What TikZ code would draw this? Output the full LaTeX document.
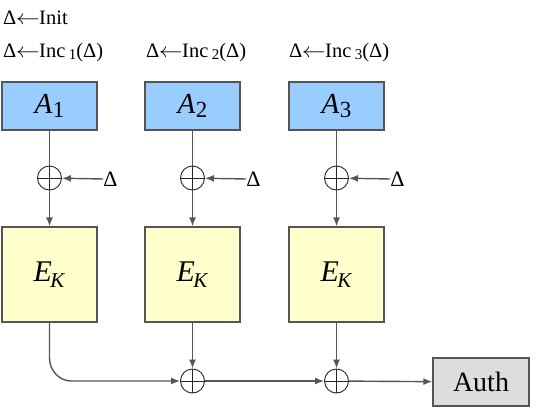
\documentclass[tikz,border=0pt]{standalone}
\usepackage{fontspec}
\setmainfont{Liberation Serif}
\usetikzlibrary{arrows.meta}
\definecolor{ablue}{RGB}{153,204,255}
\definecolor{eyel}{RGB}{255,255,204}
\definecolor{agray}{RGB}{221,221,221}
\definecolor{lgray}{RGB}{85,85,85}
\tikzset{
  abox/.style={draw=lgray, line width=1.4pt, fill=ablue, minimum width=95pt, minimum height=48pt, inner sep=0pt, font=\fontsize{29}{29}\selectfont},
  ebox/.style={draw=lgray, line width=1.4pt, fill=eyel, minimum width=95pt, minimum height=95pt, inner sep=0pt, font=\fontsize{30}{30}\selectfont},
  authbox/.style={draw=lgray, line width=1.4pt, fill=agray, minimum width=96pt, minimum height=48pt, inner sep=0pt, font=\fontsize{28}{28}\selectfont},
  xorc/.style={circle, draw=black!85, line width=0.9pt, minimum size=24pt, inner sep=0pt, path picture={\draw[black!85, line width=0.9pt] (path picture bounding box.north) -- (path picture bounding box.south) (path picture bounding box.west) -- (path picture bounding box.east);}},
  conn/.style={draw=lgray, line width=1.4pt, -{Latex[length=9pt,width=7pt]}},
  lbl/.style={font=\fontsize{20.5}{20.5}\selectfont, inner sep=0pt, anchor=base west},
  dlt/.style={font=\fontsize{22}{22}\selectfont, inner sep=0pt}
}
\newcommand{\Asub}[1]{\textit{A}\kern0.5pt\raisebox{-0.3ex}{\fontsize{23}{23}\selectfont #1}}
\newcommand{\EK}{\textit{E}\kern-1.5pt\raisebox{-0.4ex}{\fontsize{21}{21}\selectfont\textit{K}}}
\newcommand{\larr}{\kern-0.5pt\scalebox{1.15}[1]{$\leftarrow$}\kern-0.5pt}
\newcommand{\Inc}[1]{Δ\larr Inc\,\raisebox{-0.3ex}{\fontsize{15}{15}\selectfont #1}(Δ)}
\begin{document}
\begin{tikzpicture}[x=1pt,y=-1pt]
\useasboundingbox (0,0) rectangle (551,410);
\node[lbl] (init) at (3,24) {Δ\larr Init};
\node[lbl] (i1) at (3,57) {\Inc{1}};
\node[lbl] (i2) at (146,57) {\Inc{2}};
\node[lbl] (i3) at (289,57) {\Inc{3}};
\foreach \i/\x in {1/49.5,2/192.5,3/336.5}{
  \node[abox] (a\i) at (\x,106) {\Asub{\i}};
  \node[xorc] (x\i) at (\x,178) {};
  \node[dlt] (d\i) at (\x+61,179) {Δ};
  \node[ebox] (e\i) at (\x,274.5) {\EK};
  \draw[draw=lgray, line width=1.4pt] (a\i) -- (x\i);
  \draw[conn] (d\i.west) -- (x\i);
  \draw[conn] (x\i) -- (e\i);
}
\node[xorc] (b2) at (192.5,381) {};
\node[xorc] (b3) at (336.5,381) {};
\node[authbox] (auth) at (481,382) {Auth};
\coordinate (c1) at (49.5,358);
\draw[conn] (e1.south) -- (c1) to[out=-90,in=180] (71.5,381) -- (b2);
\draw[conn] (e2) -- (b2);
\draw[conn] (e3) -- (b3);
\draw[conn] (b2) -- (b3);
\draw[conn] (b3) -- (auth);
\end{tikzpicture}
\end{document}
